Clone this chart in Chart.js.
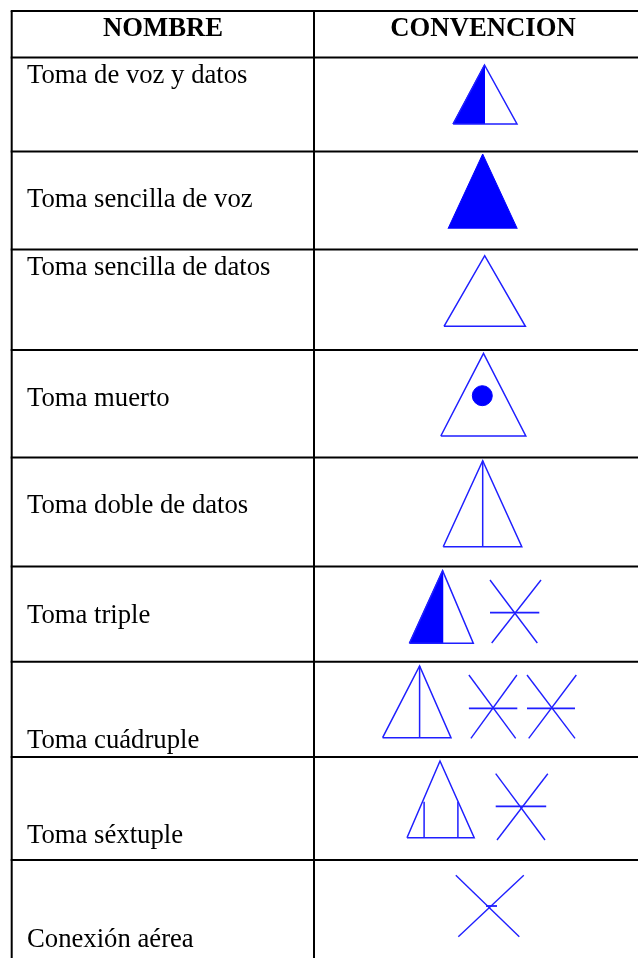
<!DOCTYPE html>
<html>
<head>
<meta charset="utf-8">
<title>Convenciones</title>
<script src="https://cdn.jsdelivr.net/npm/chart.js@4/dist/chart.umd.min.js"></script>
<style>
    html, body { margin: 0; padding: 0; background: #fff; }
    canvas { display: block; }
</style>
</head>
<body>
<canvas id="tableChart" width="638" height="958"></canvas>
<script>
const headers = ['NOMBRE', 'CONVENCION'];
const headerCenters = [163, 483];
const headerBaseline = 35.5;

const rowNames = [
    'Toma de voz y datos',
    'Toma sencilla de voz',
    'Toma sencilla de datos',
    'Toma muerto',
    'Toma doble de datos',
    'Toma triple',
    'Toma cuádruple',
    'Toma séxtuple',
    'Conexión aérea'
];
const rowBaselines = [83, 207, 275, 406, 513, 623, 748, 843, 947];

// table rules, in the same units as the symbols
const ruleRows = [11, 57.5, 151.5, 249.5, 350, 457.5, 566.5, 661.7, 757, 860];
const ruleColumns = [11.7, 314];

// triangles: [left, apex x, right, top, base]
const outlineTriangles = [
    [453, 484.5, 517, 65, 124],
    [444, 484.7, 525.4, 255.7, 326.3],
    [440.8, 483.5, 525.8, 353.3, 436],
    [443.2, 482.7, 521.8, 460.7, 546.7],
    [409.4, 442.6, 473.3, 570.7, 643.3],
    [382.6, 419.6, 451, 666, 737.7],
    [407, 440, 474.2, 761, 837.7]
];
const solidTriangles = [
    [448, 482.7, 517.3, 154, 228.7]
];
const halfSolidTriangles = [
    [453, 484.5, 124, 65],
    [409.4, 442.6, 643.3, 570.7]
];

// vertical strokes inside the triangles: [x, top, bottom]
const innerStrokes = [
    [482.7, 460.7, 546.7],
    [419.6, 666, 737.7],
    [424.1, 801.7, 837.7],
    [457.9, 801.7, 837.7]
];

// stars: [x1 top, x1 bottom, x2 top, x2 bottom, top, bottom, bar left, bar right, bar y]
const stars = [
    [490, 537.3, 541, 491.7, 580, 643, 490, 539.3, 612.7],
    [468.9, 515.7, 516.9, 470.9, 675, 738.3, 468.9, 517.3, 708.3],
    [527, 575, 576.3, 528.7, 675, 738.3, 527, 575, 708.3],
    [495.7, 545, 547.8, 497, 773.7, 840, 495.7, 546.2, 806.3]
];
// aerial connection: same layout, with only a short bar at the crossing
const aerialCross = [455.8, 519.3, 523.8, 458.3, 875.3, 936.7, 486, 497, 906];

const deadDot = [482.3, 395.7];

const BLUE = '#0000ff';
const STROKE_BLUE = '#1f1fff';
const BLACK = '#000000';

const segment = (points, color, width) => ({
    data: points.map(p => ({ x: p[0], y: p[1] })),
    showLine: true,
    borderColor: color,
    borderWidth: width,
    pointRadius: 0,
    fill: false,
    tension: 0
});

const filledShape = (points, base) => ({
    data: points.map(p => ({ x: p[0], y: p[1] })),
    showLine: true,
    borderColor: BLUE,
    borderWidth: 1,
    backgroundColor: BLUE,
    pointRadius: 0,
    fill: { value: base },
    tension: 0
});

const buildDatasets = () => {
    const sets = [];

    ruleRows.forEach(y => sets.push(segment([[ruleColumns[0] - 1, y], [638, y]], BLACK, 2)));
    ruleColumns.forEach(x => sets.push(segment([[x, ruleRows[0]], [x, 958]], BLACK, 2)));

    outlineTriangles.forEach(t => {
        sets.push(segment([[t[0], t[4]], [t[1], t[3]], [t[2], t[4]], [t[0], t[4]]], STROKE_BLUE, 1.5));
    });
    solidTriangles.forEach(t => {
        sets.push(filledShape([[t[0], t[4]], [t[1], t[3]], [t[2], t[4]]], t[4]));
    });
    halfSolidTriangles.forEach(t => {
        sets.push(filledShape([[t[0], t[2]], [t[1], t[3]], [t[1], t[2]]], t[2]));
    });
    innerStrokes.forEach(s => sets.push(segment([[s[0], s[1]], [s[0], s[2]]], STROKE_BLUE, 1.5)));

    stars.concat([aerialCross]).forEach(s => {
        sets.push(segment([[s[0], s[4]], [s[1], s[5]]], STROKE_BLUE, 1.4));
        sets.push(segment([[s[2], s[4]], [s[3], s[5]]], STROKE_BLUE, 1.4));
        sets.push(segment([[s[6], s[8]], [s[7], s[8]]], STROKE_BLUE, 1.8));
    });

    sets.push({
        data: [{ x: deadDot[0], y: deadDot[1] }],
        showLine: false,
        pointStyle: 'circle',
        pointRadius: 10,
        pointBackgroundColor: BLUE,
        pointBorderColor: BLUE,
        pointBorderWidth: 1
    });

    return sets;
};

// table text sits on the chart scales
const tableText = {
    id: 'tableText',
    afterDatasetsDraw(chart) {
        const { ctx, scales: { x, y } } = chart;
        ctx.save();
        ctx.fillStyle = '#000';
        ctx.textBaseline = 'alphabetic';

        ctx.font = 'bold 26.7px "Liberation Serif"';
        ctx.textAlign = 'center';
        headers.forEach((h, i) => {
            ctx.fillText(h, x.getPixelForValue(headerCenters[i]), y.getPixelForValue(headerBaseline));
        });

        ctx.font = '26.7px "Liberation Serif"';
        ctx.textAlign = 'left';
        rowNames.forEach((name, i) => {
            ctx.fillText(name, x.getPixelForValue(27), y.getPixelForValue(rowBaselines[i]));
        });
        ctx.restore();
    }
};

new Chart(document.getElementById('tableChart').getContext('2d'), {
    type: 'scatter',
    data: { datasets: buildDatasets() },
    options: {
        responsive: false,
        animation: false,
        layout: { padding: 0, autoPadding: false },
        plugins: {
            legend: { display: false },
            tooltip: { enabled: false }
        },
        scales: {
            x: { type: 'linear', min: 0, max: 638, display: false },
            y: { type: 'linear', min: 0, max: 958, reverse: true, display: false }
        }
    },
    plugins: [tableText]
});
</script>
</body>
</html>
